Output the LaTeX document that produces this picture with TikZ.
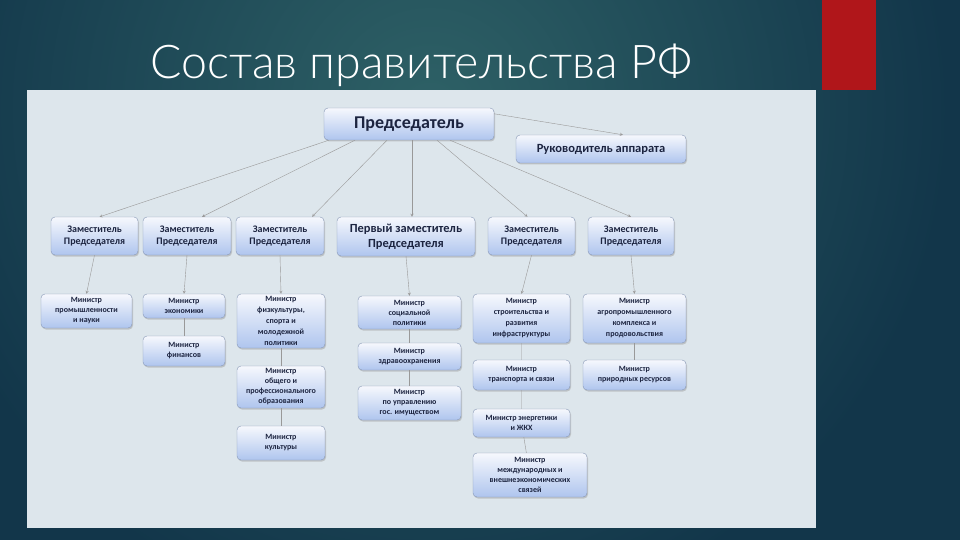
\documentclass[tikz,border=0pt]{standalone}
\usepackage{fontspec}
\setmainfont{Carlito}
\newfontfamily\titlefont{Lato Light}
\usetikzlibrary{shadows}

\definecolor{bgdark}{HTML}{12364A}
\definecolor{bglight}{HTML}{2E6166}
\definecolor{panel}{HTML}{DDE6EC}
\definecolor{barred}{HTML}{B0161A}
\definecolor{boxtop}{HTML}{F6F8FD}
\definecolor{boxbot}{HTML}{AFC5EE}
\definecolor{boxline}{HTML}{8797B5}
\definecolor{boxtext}{HTML}{1C2440}

\tikzset{
  box/.style={rectangle, rounded corners=4pt, draw=boxline, top color=boxtop, bottom color=boxbot,
    drop shadow={shadow xshift=1pt, shadow yshift=-1.5pt, fill=black!40, opacity=.45},
    align=center, text=boxtext, inner sep=0pt, font=\bfseries\fontsize{8}{10}\selectfont},
  boxsize/.style 2 args={minimum width=#1pt, minimum height=#2pt},
  deputy/.style={box, font=\bfseries\fontsize{10}{12.5}\selectfont},
  link/.style={draw=gray!80, thin},
  arr/.style={link, ->, >=stealth}
}

\begin{document}
\begin{tikzpicture}[x=1pt, y=-1pt]
  \useasboundingbox (0,0) rectangle (960,540);
  \fill[bgdark] (0,0) rectangle (960,540);
  \shade[inner color=bglight, outer color=bgdark] (430,110) circle (520);
  \fill[barred] (822,0) rectangle (876,90);
  \fill[panel] (27,90) rectangle (816,528);
  \node[anchor=base west, text=white, font=\titlefont\fontsize{46.5}{46.5}\selectfont] (title) at (147,79) {Состав правительства РФ};

  \node[box, boxsize={170}{32}, font=\bfseries\fontsize{18}{20}\selectfont] (chair) at (409,124) {Председатель};
  \node[box, boxsize={170}{28}, font=\bfseries\fontsize{12.5}{14}\selectfont] (apparat) at (601,149) {Руководитель аппарата};

  \node[deputy, boxsize={87}{38}] (d1) at (94.5,236) {Заместитель\\Председателя};
  \node[deputy, boxsize={88}{38}] (d2) at (187,236) {Заместитель\\Председателя};
  \node[deputy, boxsize={88}{38}] (d3) at (280,236) {Заместитель\\Председателя};
  \node[deputy, boxsize={138}{39}, font=\bfseries\fontsize{12.4}{15}\selectfont] (first) at (406,236.5) {Первый заместитель\\Председателя};
  \node[deputy, boxsize={87}{38}] (d4) at (531.5,236) {Заместитель\\Председателя};
  \node[deputy, boxsize={86}{38}] (d5) at (631,236) {Заместитель\\Председателя};

  \node[box, boxsize={91}{34}] (m1) at (86.5,311) {Министр\\промышленности\\и науки};
  \node[box, boxsize={82}{24}] (m2) at (184,306) {Министр\\экономики};
  \node[box, boxsize={82}{30}] (m3) at (184,351) {Министр\\финансов};
  \node[box, boxsize={88}{54}, font=\bfseries\fontsize{8}{11}\selectfont] (m4) at (281,321) {Министр\\физкультуры,\\спорта и\\молодежной\\политики};
  \node[box, boxsize={88}{42}] (m5) at (281,387) {Министр\\общего и\\профессионального\\образования};
  \node[box, boxsize={88}{34}] (m6) at (281,443) {Министр\\культуры};
  \node[box, boxsize={103}{33}] (m7) at (409.5,312.5) {Министр\\социальной\\политики};
  \node[box, boxsize={103}{27}] (m8) at (409.5,356.5) {Министр\\здравоохранения};
  \node[box, boxsize={103}{34}] (m9) at (409.5,403) {Министр\\по управлению\\гос. имуществом};
  \node[box, boxsize={97}{49}, font=\bfseries\fontsize{8}{11}\selectfont] (m10) at (521.5,318.5) {Министр\\строительства и\\развития\\инфраструктуры};
  \node[box, boxsize={97}{30}] (m11) at (521.5,375) {Министр\\транспорта и связи};
  \node[box, boxsize={97}{28}] (m12) at (521.5,423) {Министр энергетики\\и ЖКХ};
  \node[box, boxsize={114}{44}] (m13) at (530,475) {Министр\\международных и\\внешнеэкономических\\связей};
  \node[box, boxsize={103}{49}, font=\bfseries\fontsize{8}{11}\selectfont] (m14) at (634.5,318.5) {Министр\\агропромышленного\\комплекса и\\продовольствия};
  \node[box, boxsize={103}{30}] (m15) at (634.5,375) {Министр\\природных ресурсов};

  \draw[arr] ([xshift=-80pt]chair.south) -- ([xshift=5pt]d1.north);
  \draw[arr] ([xshift=-54pt]chair.south) -- ([xshift=15pt]d2.north);
  \draw[arr] ([xshift=-22pt]chair.south) -- ([xshift=32pt]d3.north);
  \draw[arr] ([xshift=3pt]chair.south) -- ([xshift=6pt]first.north);
  \draw[arr] ([xshift=28pt]chair.south) -- ([xshift=-4pt]d4.north);
  \draw[arr] ([xshift=41pt]chair.south) -- (d5.north);
  \draw[arr] ([yshift=-6pt]chair.north east) -- ([xshift=22pt]apparat.north);

  \draw[arr] (d1.south) -- (m1.north);
  \draw[arr] (d2.south) -- (m2.north);
  \draw[arr] (d3.south) -- (m4.north);
  \draw[arr] (first.south) -- (m7.north);
  \draw[arr] (d4.south) -- (m10.north);
  \draw[arr] (d5.south) -- (m14.north);

  \draw[link] (m2) -- (m3);
  \draw[link] (m4) -- (m5) -- (m6);
  \draw[link] (m7) -- (m8) -- (m9);
  \draw[link] (m10) -- (m11) -- (m12) -- (m13);
  \draw[link] (m14) -- (m15);
\end{tikzpicture}
\end{document}
